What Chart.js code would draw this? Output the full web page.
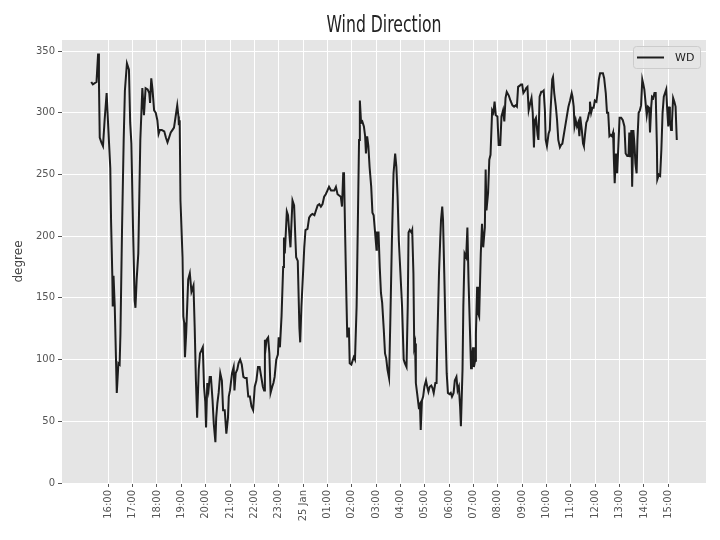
<!DOCTYPE html>
<html>
<head>
<meta charset="utf-8">
<title>Wind Direction</title>
<script src="https://cdn.jsdelivr.net/npm/chart.js@4"></script>
<style>
    html, body { margin: 0; padding: 0; background: #ffffff; }
    canvas { display: block; }
</style>
</head>
<body>
<canvas id="windChart" width="720" height="540"></canvas>
<script>
// Observation times, minutes since 24 Jan 00:00
const minutes = [
    918, 922, 931, 935, 937, 939, 943, 947, 951, 956, 959, 962, 965, 967, 970, 971, 973, 976, 981, 985,
    988, 990, 994, 998, 1001, 1006, 1011, 1014, 1017, 1021, 1025, 1027, 1030, 1034, 1039,
    1044, 1048, 1052, 1057, 1061, 1063, 1066, 1069, 1073, 1077, 1081, 1084, 1087, 1092, 1098, 1102,
    1106, 1110, 1114, 1118, 1122, 1126, 1130, 1133, 1134, 1136, 1138, 1143, 1145, 1147, 1149, 1152,
    1157, 1161, 1165,
    1170, 1173, 1176, 1179, 1183, 1186, 1189, 1193, 1196, 1199, 1201, 1204, 1207, 1210, 1213, 1217,
    1220, 1224, 1226, 1229, 1232, 1236, 1240, 1243, 1247, 1251, 1255, 1257, 1260, 1265, 1269, 1271,
    1274, 1278, 1281, 1285, 1289, 1293, 1297,
    1301, 1305, 1309, 1313, 1317, 1321, 1325, 1329, 1333, 1337, 1341, 1344, 1346, 1348, 1350, 1354,
    1357, 1360, 1364, 1367, 1370, 1374, 1378, 1380, 1383, 1387, 1391, 1393, 1395, 1397, 1400, 1403,
    1406, 1409, 1411, 1414, 1418, 1421, 1423, 1427,
    1431, 1433, 1436, 1440, 1443, 1446, 1451, 1455, 1459, 1463, 1468, 1472, 1476, 1480, 1484, 1488,
    1492, 1496, 1500, 1504, 1509, 1513, 1517, 1521, 1525, 1529, 1533, 1536, 1539, 1541, 1544, 1547,
    1549, 1553, 1555, 1559,
    1561, 1565, 1568, 1572, 1575, 1578, 1580, 1583, 1586, 1590, 1593, 1595, 1598, 1601, 1604, 1608,
    1611, 1614, 1617, 1621, 1622, 1626, 1629, 1632, 1635, 1639, 1642, 1645, 1648, 1652, 1655, 1659,
    1663, 1667, 1670, 1673, 1676, 1680, 1684, 1688,
    1691, 1695, 1698, 1700, 1703, 1707, 1709, 1712, 1714, 1716, 1718, 1721, 1725, 1728, 1730, 1733,
    1736, 1739, 1743, 1746, 1749, 1752, 1756, 1759, 1762, 1766, 1769, 1771, 1775, 1778, 1780, 1783,
    1785, 1788, 1791, 1794, 1797, 1801, 1804, 1807, 1811, 1814, 1818,
    1821, 1824, 1827, 1829, 1833, 1835, 1838, 1842, 1845, 1848, 1852, 1854, 1856, 1859, 1861, 1864,
    1866, 1869, 1871, 1874, 1878, 1881, 1884, 1888, 1890, 1892, 1896, 1899, 1902, 1906, 1909, 1912,
    1915, 1919, 1922, 1926, 1929, 1933, 1936, 1939, 1942, 1947,
    1951, 1956, 1960, 1964, 1967, 1970, 1974, 1977, 1980, 1983, 1987, 1990, 1993, 1996, 2000, 2003,
    2006, 2009, 2011, 2014, 2018, 2020, 2023, 2027, 2030, 2033, 2036, 2038, 2041, 2045, 2048, 2050,
    2054, 2056, 2059, 2063, 2066, 2069, 2073, 2076, 2079,
    2082, 2086, 2090, 2094, 2098, 2102, 2104, 2107, 2109, 2112, 2115, 2118, 2121, 2123, 2127, 2130,
    2132, 2135, 2138, 2141, 2145, 2147, 2150, 2153, 2156, 2159, 2163, 2166, 2169, 2172, 2176, 2179,
    2182, 2186, 2189, 2192, 2195, 2198, 2201, 2204, 2206, 2208,
    2211, 2214, 2217, 2220, 2224, 2228, 2232, 2235, 2239, 2242, 2244, 2246, 2249, 2251, 2254, 2257,
    2259, 2262, 2264, 2267, 2270, 2273, 2276, 2278, 2281, 2285, 2287, 2290, 2293, 2295, 2298, 2300,
    2303, 2306, 2309, 2312, 2313, 2317, 2320, 2323, 2326, 2329, 2332, 2335, 2337, 2340, 2342, 2344,
    2347, 2349, 2352, 2355, 2358, 2361
];

// Wind direction (degree) at each time above
const wd = [
    325, 323, 325, 348, 326, 280, 276, 273, 294, 316, 295, 275, 255, 211, 168, 143, 168, 143, 73, 97,
    96, 121, 207, 278, 318, 340, 335, 292, 275, 207, 148, 142, 165, 186, 278,
    320, 298, 320, 319, 316, 308, 328, 319, 302, 300, 294, 283, 286, 286, 285, 280,
    276, 280, 284, 286, 288, 297, 306, 297, 290, 294, 229, 183, 135, 130, 102, 121,
    165, 170, 155,
    160, 126, 83, 53, 92, 105, 107, 110, 78, 66, 45, 81, 75, 86, 86, 67,
    48, 33, 53, 65, 73, 89, 83, 59, 59, 40, 53, 70, 75, 89, 94, 75,
    89, 92, 97, 100, 96, 86, 85,
    85, 70, 70, 62, 59, 78, 83, 94, 94, 86, 78, 75, 116, 110, 116, 118,
    105, 73, 78, 81, 86, 100, 104, 118, 110, 135, 175, 199, 186, 199, 220, 217,
    203, 191, 207, 229, 225, 199, 183, 180,
    126, 114, 143, 170, 191, 205, 206, 215, 217, 218, 217, 221, 225, 226, 224, 226,
    232, 234, 237, 240, 237, 237, 237, 240, 234, 233, 232, 224, 251, 251, 197, 148,
    118, 126, 97, 96,
    98, 102, 100, 143, 210, 278, 310, 292, 293, 289, 281, 267, 281, 273, 256, 240,
    219, 217, 205, 189, 203, 203, 175, 154, 146, 124, 105, 101, 92, 85, 130, 197,
    251, 267, 256, 232, 197, 170, 143, 100,
    97, 94, 143, 203, 205, 203, 205, 170, 110, 113, 81, 73, 62, 64, 43, 67,
    70, 78, 83, 78, 74, 78, 79, 77, 73, 81, 81, 116, 170, 197, 213, 224,
    213, 170, 126, 89, 73, 72, 73, 70, 73, 83, 86,
    75, 78, 62, 46, 92, 143, 186, 183, 207, 162, 116, 93, 102, 110, 94, 99,
    121, 159, 138, 135, 186, 210, 191, 207, 254, 221, 235, 262, 266, 302, 300, 309,
    298, 297, 274, 274, 297, 302, 293, 312, 317, 314,
    310, 306, 305, 306, 305, 321, 322, 323, 323, 316, 318, 320, 321, 302, 308, 312,
    300, 272, 294, 296, 282, 278, 313, 317, 317, 318, 302, 278, 273, 283, 286, 302,
    327, 329, 316, 305, 294, 278, 272, 274, 275,
    281, 289, 297, 305, 310, 316, 313, 305, 289, 294, 289, 292, 281, 297, 286, 275,
    273, 283, 292, 294, 300, 309, 300, 304, 304, 310, 309, 317, 327, 332, 332, 332,
    328, 316, 300, 300, 281, 282, 281, 284, 262, 243,
    267, 251, 273, 296, 296, 294, 289, 267, 265, 265, 284, 264, 286, 240, 286, 273,
    259, 251, 278, 300, 302, 306, 327, 324, 319, 305, 298, 305, 304, 284, 305, 313,
    312, 316, 316, 273, 246, 250, 249, 270, 300, 313, 316, 319, 305, 289, 305, 294,
    286, 292, 312, 309, 305, 278
];

// Hourly x ticks (minutes since 24 Jan 00:00) and their labels
const xTickValues = [
    960, 1020, 1080, 1140, 1200, 1260, 1320, 1380, 1440, 1500, 1560, 1620,
    1680, 1740, 1800, 1860, 1920, 1980, 2040, 2100, 2160, 2220, 2280, 2340
];
const xTickLabels = [
    '16:00', '17:00', '18:00', '19:00', '20:00', '21:00', '22:00', '23:00', '25 Jan', '01:00', '02:00', '03:00',
    '04:00', '05:00', '06:00', '07:00', '08:00', '09:00', '10:00', '11:00', '12:00', '13:00', '14:00', '15:00'
];
const yTickValues = [0, 50, 100, 150, 200, 250, 300, 350];

const chartTitle = 'Wind Direction';

const PANEL_BG = '#E5E5E5';
const TEXT_GREY = '#555555';

document.addEventListener('DOMContentLoaded', function() {
    initializeWindChart();
});

// Grey ggplot-like panel behind the data
const panelBackground = {
    id: 'panelBackground',
    beforeDraw(chart) {
        const { ctx, chartArea } = chart;
        ctx.save();
        ctx.fillStyle = PANEL_BG;
        ctx.fillRect(chartArea.left, chartArea.top, chartArea.right - chartArea.left, chartArea.bottom - chartArea.top);
        ctx.restore();
    }
};

// Narrow title centred over the plot area (not the whole canvas)
const panelTitle = {
    id: 'panelTitle',
    afterDraw(chart) {
        const { ctx, chartArea } = chart;
        const cx = (chartArea.left + chartArea.right) / 2;
        ctx.save();
        ctx.font = '23px "DejaVu Sans Condensed", "DejaVu Sans", sans-serif';
        const natural = ctx.measureText(chartTitle).width;
        const squeeze = 115 / natural;
        ctx.translate(cx, 32);
        ctx.scale(squeeze, 1);
        ctx.fillStyle = '#222222';
        ctx.textAlign = 'center';
        ctx.textBaseline = 'alphabetic';
        ctx.fillText(chartTitle, 0, 0);
        ctx.restore();
    }
};

// Legend box drawn inside the upper right corner of the plot area
const insideLegend = {
    id: 'insideLegend',
    afterDatasetsDraw(chart) {
        const { ctx, chartArea } = chart;
        const ds = chart.data.datasets[0];
        const w = 67, h = 22;
        const x = chartArea.right - 6 - w;
        const y = chartArea.top + 6;

        ctx.save();
        ctx.beginPath();
        ctx.roundRect(x + 0.5, y + 0.5, w, h, 3);
        ctx.fillStyle = 'rgba(229, 229, 229, 0.8)';
        ctx.fill();
        ctx.strokeStyle = '#CCCCCC';
        ctx.lineWidth = 1;
        ctx.stroke();

        ctx.beginPath();
        ctx.moveTo(x + 4, y + h / 2 + 0.5);
        ctx.lineTo(x + 31, y + h / 2 + 0.5);
        ctx.strokeStyle = ds.borderColor;
        ctx.lineWidth = ds.borderWidth;
        ctx.stroke();

        ctx.fillStyle = '#222222';
        ctx.font = '11px "DejaVu Sans", sans-serif';
        ctx.textBaseline = 'middle';
        ctx.textAlign = 'left';
        ctx.fillText(ds.label, x + 42, y + h / 2 + 1);
        ctx.restore();
    }
};

function initializeWindChart() {
    const ctx = document.getElementById('windChart');
    if (!ctx) return;

    const points = minutes.map((m, i) => ({ x: m, y: wd[i] }));

    new Chart(ctx, {
        type: 'line',
        data: {
            datasets: [{
                label: 'WD',
                data: points,
                borderColor: '#1e1e1e',
                borderWidth: 2,
                pointRadius: 0,
                tension: 0,
                fill: false
            }]
        },
        options: {
            responsive: false,
            animation: false,
            devicePixelRatio: 1,
            layout: {
                padding: { left: 0, right: 14, top: 40, bottom: 0 }
            },
            plugins: {
                legend: { display: false },
                tooltip: { enabled: false },
                title: { display: false }
            },
            scales: {
                x: {
                    type: 'linear',
                    min: 846,
                    max: 2433,
                    afterBuildTicks: (axis) => {
                        axis.ticks = xTickValues.map(v => ({ value: v }));
                    },
                    afterFit: (axis) => {
                        axis.height = 57;
                    },
                    ticks: {
                        minRotation: 90,
                        maxRotation: 90,
                        padding: 3,
                        color: TEXT_GREY,
                        font: { family: '"DejaVu Sans", sans-serif', size: 10 },
                        callback: (value, index) => xTickLabels[index]
                    },
                    grid: {
                        color: '#FFFFFF',
                        lineWidth: 1,
                        tickColor: TEXT_GREY,
                        tickLength: 4
                    },
                    border: { display: false }
                },
                y: {
                    min: 0,
                    max: 359,
                    afterBuildTicks: (axis) => {
                        axis.ticks = yTickValues.map(v => ({ value: v }));
                    },
                    afterFit: (axis) => {
                        axis.width = 62;
                    },
                    ticks: {
                        padding: 3,
                        color: TEXT_GREY,
                        font: { family: '"DejaVu Sans", sans-serif', size: 10 }
                    },
                    grid: {
                        color: '#FFFFFF',
                        lineWidth: 1,
                        tickColor: TEXT_GREY,
                        tickLength: 4
                    },
                    border: { display: false },
                    title: {
                        display: true,
                        text: 'degree',
                        color: '#444444',
                        font: { family: '"DejaVu Sans", sans-serif', size: 12 },
                        padding: { top: 12, bottom: 0 }
                    }
                }
            }
        },
        plugins: [panelBackground, panelTitle, insideLegend]
    });
}
</script>
</body>
</html>
